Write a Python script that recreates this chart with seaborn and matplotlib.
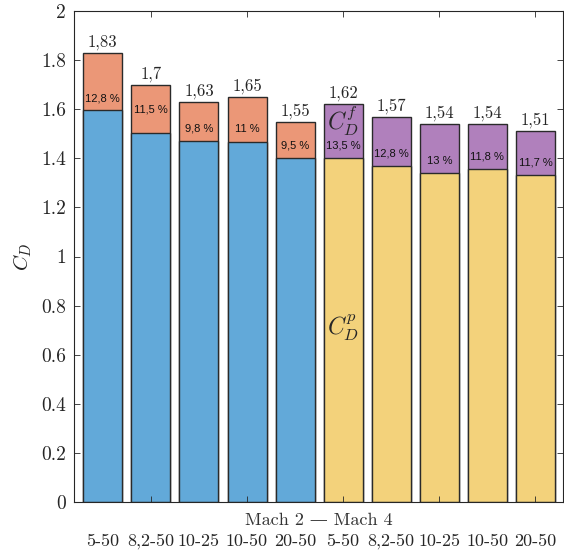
import matplotlib
matplotlib.use("Agg")

import pandas as pd
import seaborn as sns
import matplotlib.pyplot as plt
from matplotlib.ticker import FuncFormatter, FixedLocator
from matplotlib.transforms import blended_transform_factory

# --- data ------------------------------------------------------------------
configs = ["5-50", "8,2-50", "10-25", "10-50", "20-50",
           "5-50", "8,2-50", "10-25", "10-50", "20-50"]
regime = ["Mach 2"] * 5 + ["Mach 4"] * 5
cd_total = [1.83, 1.70, 1.63, 1.65, 1.55, 1.62, 1.57, 1.54, 1.54, 1.51]
friction_pct = [12.8, 11.5, 9.8, 11.0, 9.5, 13.5, 12.8, 13.0, 11.8, 11.7]
y_ticks = [0, 0.2, 0.4, 0.6, 0.8, 1.0, 1.2, 1.4, 1.6, 1.8, 2.0]

# colours
pressure_colors = {"Mach 2": "#62A9D9", "Mach 4": "#F3D27B"}
friction_colors = {"Mach 2": "#EB9777", "Mach 4": "#B080BC"}
edge = "#2a2a2a"

sns.set_theme(style="ticks")
plt.rcParams.update({
    "font.family": ["cmr10", "DejaVu Serif"],
    "mathtext.fontset": "cm",
    "axes.formatter.use_mathtext": True,
    "axes.unicode_minus": False,
    "axes.edgecolor": "#262626",
    "axes.linewidth": 0.8,
    "xtick.direction": "in",
    "ytick.direction": "in",
})


def fr(v: float) -> str:
    # french-style decimal comma
    return f"{v:g}".replace(".", ",")


df = pd.DataFrame({
    "pos": range(1, len(cd_total) + 1),
    "config": configs,
    "regime": regime,
    "total": cd_total,
    "pct": friction_pct,
})
df["pressure"] = df["total"] * (1 - df["pct"] / 100)

fig = plt.figure(figsize=(5.64, 5.54), dpi=100)
ax = fig.add_axes([0.132, 0.094, 0.866, 0.886])

common = dict(x="pos", hue="regime", native_scale=True, dodge=False,
              width=0.81, legend=False, errorbar=None, ax=ax, saturation=1,
              edgecolor=edge, linewidth=1.0)
sns.barplot(data=df, y="total", palette=friction_colors, **common)
sns.barplot(data=df, y="pressure", palette=pressure_colors, **common)

# labels: total on top, friction share inside the top segment
nudge = {1: 0.045}
for i, r in df.iterrows():
    ax.text(r.pos, r.total + 0.012, fr(r.total), ha="center", va="bottom",
            fontsize=12)
    ax.text(r.pos, r.pressure + 0.05 + nudge.get(i, 0), f"{fr(r.pct)} %",
            ha="center", va="center", fontsize=8, family="Liberation Sans",
            color="#111111")

ax.text(6, 1.555, r"$C_D^f$", ha="center", va="center", fontsize=17)
ax.text(6, 0.71, r"$C_D^p$", ha="center", va="center", fontsize=17)

ax.set_xlim(0.41, 10.57)
ax.set_ylim(0, 2)
ax.yaxis.set_major_locator(FixedLocator(y_ticks))
ax.yaxis.set_major_formatter(FuncFormatter(lambda v, _: f"{v:g}"))
ax.xaxis.set_major_locator(FixedLocator([2, 4, 6, 8, 10]))
ax.set_xticklabels([])
ax.set_axisbelow(False)
ax.tick_params(axis="both", which="both", top=True, right=True,
               length=4, width=0.6, color="#262626")
ax.tick_params(axis="y", labelsize=14, pad=6)

ax.set_ylabel(r"$C_D$", fontsize=15, labelpad=5)
ax.set_xlabel("")

trans = blended_transform_factory(ax.transData, ax.transAxes)
ax.text(5.5, -0.037, "Mach 2 \u2014 Mach 4", transform=trans, ha="center",
        va="center", fontsize=13, color="#333333")
for p, c in zip(df["pos"], df["config"]):
    ax.text(p, -0.08, c, transform=trans, ha="center", va="center",
            fontsize=13)

for s in ax.spines.values():
    s.set_visible(True)

fig.savefig("out.png", dpi=100)
